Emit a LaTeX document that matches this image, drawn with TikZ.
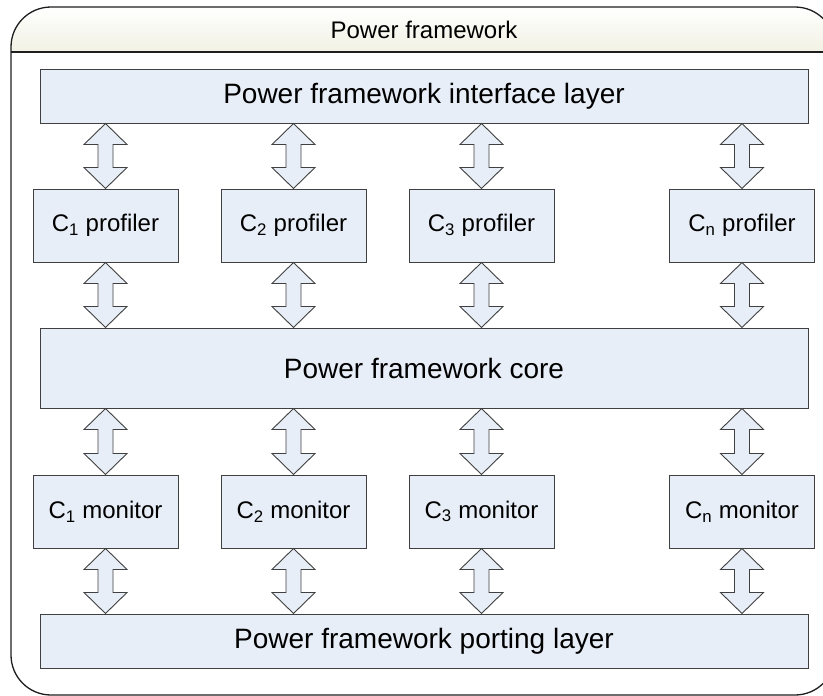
\documentclass[tikz,border=0pt]{standalone}
\usepackage{fontspec}
\setmainfont{Liberation Sans}
\usetikzlibrary{calc}

\definecolor{boxfill}{HTML}{E8EEF7}
\definecolor{edge}{HTML}{404040}
\definecolor{framec}{HTML}{1E1E1E}
\definecolor{headbot}{HTML}{F1F1E4}

% Double-headed block arrow between a top point #1 and a bottom point #2
\newcommand\blockarrow[2]{%
  \path[arrowshape] let \p1=(#1), \p2=(#2) in
    (\x1,\y1) -- (\x1+21.5pt,\y1-21pt) -- (\x1+7.5pt,\y1-21pt)
    -- (\x1+7.5pt,\y2+21pt) -- (\x1+21.5pt,\y2+21pt) -- (\x1,\y2)
    -- (\x1-21.5pt,\y2+21pt) -- (\x1-7.5pt,\y2+21pt)
    -- (\x1-7.5pt,\y1-21pt) -- (\x1-21.5pt,\y1-21pt) -- cycle;}

\begin{document}
\begin{tikzpicture}[x=1pt,y=-1pt,
  box/.style={draw=edge, fill=boxfill, line width=1pt, inner sep=0pt,
    font=\fontsize{24}{28}\selectfont},
  wide/.style={box, minimum width=768pt, font=\fontsize{28}{32}\selectfont},
  unit/.style={box, minimum width=145pt, minimum height=73pt},
  arrowshape/.style={draw=edge, fill=boxfill, line width=0.9pt, line join=miter}]
\clip (0,0) rectangle (823,696);

% outer frame with shaded title band
\begin{scope}
  \clip[rounded corners=40pt] (11,7) rectangle (835,695);
  \shade[top color=white, bottom color=headbot] (11,7) rectangle (835,52);
\end{scope}
\draw[framec, line width=1.3pt, rounded corners=40pt] (11,7) rectangle (835,695);
\draw[framec, line width=1.3pt] (11,52) -- (835,52);
\node[font=\fontsize{24}{28}\selectfont] (title) at (424,29.5) {Power framework};

% layers
\node[wide, minimum height=54pt] (iface) at (424,96) {Power framework interface layer};
\node[wide, minimum height=80pt] (core) at (424,368) {Power framework core};
\node[wide, minimum height=54pt] (port) at (424,641) {Power framework porting layer};

% profilers
\node[unit] (p1) at (105.5,225.5) {C\textsubscript{1} profiler};
\node[unit] (p2) at (293.5,225.5) {C\textsubscript{2} profiler};
\node[unit] (p3) at (481.5,225.5) {C\textsubscript{3} profiler};
\node[unit] (pn) at (742,225.5) {C\textsubscript{n} profiler};

% monitors
\node[unit] (m1) at (105.5,511.5) {C\textsubscript{1} monitor};
\node[unit] (m2) at (293.5,511.5) {C\textsubscript{2} monitor};
\node[unit] (m3) at (481.5,511.5) {C\textsubscript{3} monitor};
\node[unit] (mn) at (742,511.5) {C\textsubscript{n} monitor};

% connectors
\foreach \idx in {1,2,3,n}{
  \blockarrow{p\idx.north |- iface.south}{p\idx.north}
  \blockarrow{p\idx.south}{p\idx.south |- core.north}
  \blockarrow{m\idx.north |- core.south}{m\idx.north}
  \blockarrow{m\idx.south}{m\idx.south |- port.north}
}
\end{tikzpicture}
\end{document}
